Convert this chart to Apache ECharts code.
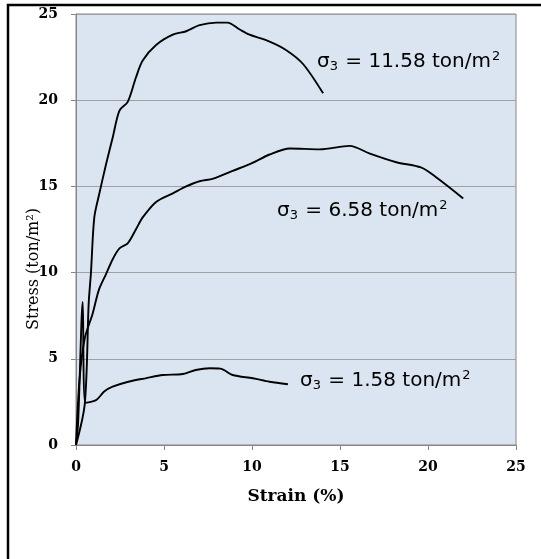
<!DOCTYPE html>
<html>
<head>
<meta charset="utf-8">
<script src="https://cdn.jsdelivr.net/npm/echarts@6/dist/echarts.min.js"></script>
<style>
html,body{margin:0;padding:0;background:#fff;}
#chart{width:541px;height:559px;}
</style>
</head>
<body>
<div id="chart"></div>
<script>
// strain (%) / stress (ton/m2)
var s1158 = [[0,0],[0.5,2.4],[0.72,8.2],[0.85,10.0],[1.04,13.2],[1.33,14.6],[1.71,16.3],[2.1,17.9],[2.47,19.4],[2.94,19.9],[3.4,21.3],[3.79,22.3],[4.55,23.2],[5.5,23.8],[6.26,24.0],[7.02,24.35],[7.97,24.5],[8.6,24.5],[9.3,24.1],[9.86,23.8],[11.0,23.4],[11.95,22.9],[12.9,22.1],[14.04,20.4]];
var s658 = [[0,0],[0.2,3.8],[0.5,6.2],[0.94,7.6],[1.3,9.0],[1.7,9.9],[2.1,10.8],[2.47,11.4],[2.94,11.7],[3.4,12.5],[3.79,13.2],[4.55,14.1],[5.5,14.6],[6.26,15.0],[7.02,15.3],[7.8,15.45],[8.9,15.9],[10.0,16.35],[11.0,16.85],[12.15,17.2],[13.85,17.15],[15.55,17.35],[16.7,16.9],[18.2,16.4],[19.6,16.1],[20.5,15.5],[22.0,14.3]];
var s158 = [[0,0],[0.12,1.3],[0.38,8.3],[0.53,2.45],[1.14,2.6],[1.6,3.1],[2.08,3.38],[2.97,3.67],[4.0,3.88],[4.93,4.06],[6.07,4.12],[6.8,4.35],[7.6,4.45],[8.2,4.43],[8.9,4.06],[10.05,3.87],[11.0,3.67],[12.04,3.52]];
var sigma3 = ['11.58', '6.58', '1.58'];
var xTicks = [0, 5, 10, 15, 20, 25];
var yTicks = [0, 5, 10, 15, 20, 25];

var chart = echarts.init(document.getElementById('chart'));
var serif = '"DejaVu Serif", "Liberation Serif", serif';
var sans = '"DejaVu Sans", "Noto Sans", sans-serif';

function line(name, data) {
    return {
        name: name,
        type: 'line',
        data: data,
        smooth: 0.3,
        symbol: 'none',
        lineStyle: {color: '#000', width: 1.9},
        z: 3
    };
}

// σ3 = xx ton/m2 with real sub/superscript
function note(x, yMid, val) {
    return {
        type: 'text', x: x, y: yMid,
        style: {
            text: '{m|σ}{sub|3}{m| = ' + val + ' ton/m}{sup|2}',
            verticalAlign: 'middle',
            rich: {
                m: {fontFamily: sans, fontSize: 20, lineHeight: 25, color: '#000'},
                sub: {fontFamily: sans, fontSize: 13, lineHeight: 25, verticalAlign: 'bottom', padding: [0, 1, 1, 0], color: '#000'},
                sup: {fontFamily: sans, fontSize: 13, lineHeight: 25, verticalAlign: 'top', padding: [1, 0, 0, 1], color: '#000'}
            }
        },
        silent: true
    };
}

var option = {
    backgroundColor: '#fff',
    animation: false,
    grid: {left: 76, right: 25, top: 14, bottom: 114, show: true, backgroundColor: '#dbe5f1', borderColor: '#868686', borderWidth: 1},
    xAxis: {
        type: 'value',
        min: xTicks[0], max: xTicks[xTicks.length - 1], interval: 5,
        name: 'Strain (%)',
        nameLocation: 'middle',
        nameGap: 43,
        nameTextStyle: {fontFamily: serif, fontWeight: 'bold', fontSize: 17, color: '#000'},
        axisLine: {lineStyle: {color: '#868686'}},
        axisTick: {show: true, length: 5, lineStyle: {color: '#868686'}},
        axisLabel: {fontFamily: serif, fontWeight: 'bold', fontSize: 14, color: '#000', margin: 15},
        splitLine: {show: false}
    },
    yAxis: {
        type: 'value',
        min: yTicks[0], max: yTicks[yTicks.length - 1], interval: 5,
        axisLine: {show: true, lineStyle: {color: '#868686'}},
        axisTick: {show: true, length: 5, lineStyle: {color: '#868686'}},
        axisLabel: {fontFamily: serif, fontWeight: 'bold', fontSize: 14, color: '#000', margin: 18},
        splitLine: {show: true, lineStyle: {color: '#a0a0a0', width: 1}}
    },
    series: [
        line('σ3 = 11.58', s1158),
        line('σ3 = 6.58', s658),
        line('σ3 = 1.58', s158)
    ],
    graphic: [
        {type: 'rect', shape: {x: 8, y: 5, width: 560, height: 580}, style: {fill: 'none', stroke: '#000', lineWidth: 2.5}, silent: true},
        {type: 'text', x: 34, y: 269, rotation: Math.PI / 2,
            style: {text: 'Stress (ton/m²)', align: 'center', verticalAlign: 'middle', font: '16px ' + serif, fill: '#000'}, silent: true},
        note(317, 62, sigma3[0]),
        note(277, 211, sigma3[1]),
        note(300, 381, sigma3[2])
    ]
};

chart.setOption(option);
</script>
</body>
</html>
